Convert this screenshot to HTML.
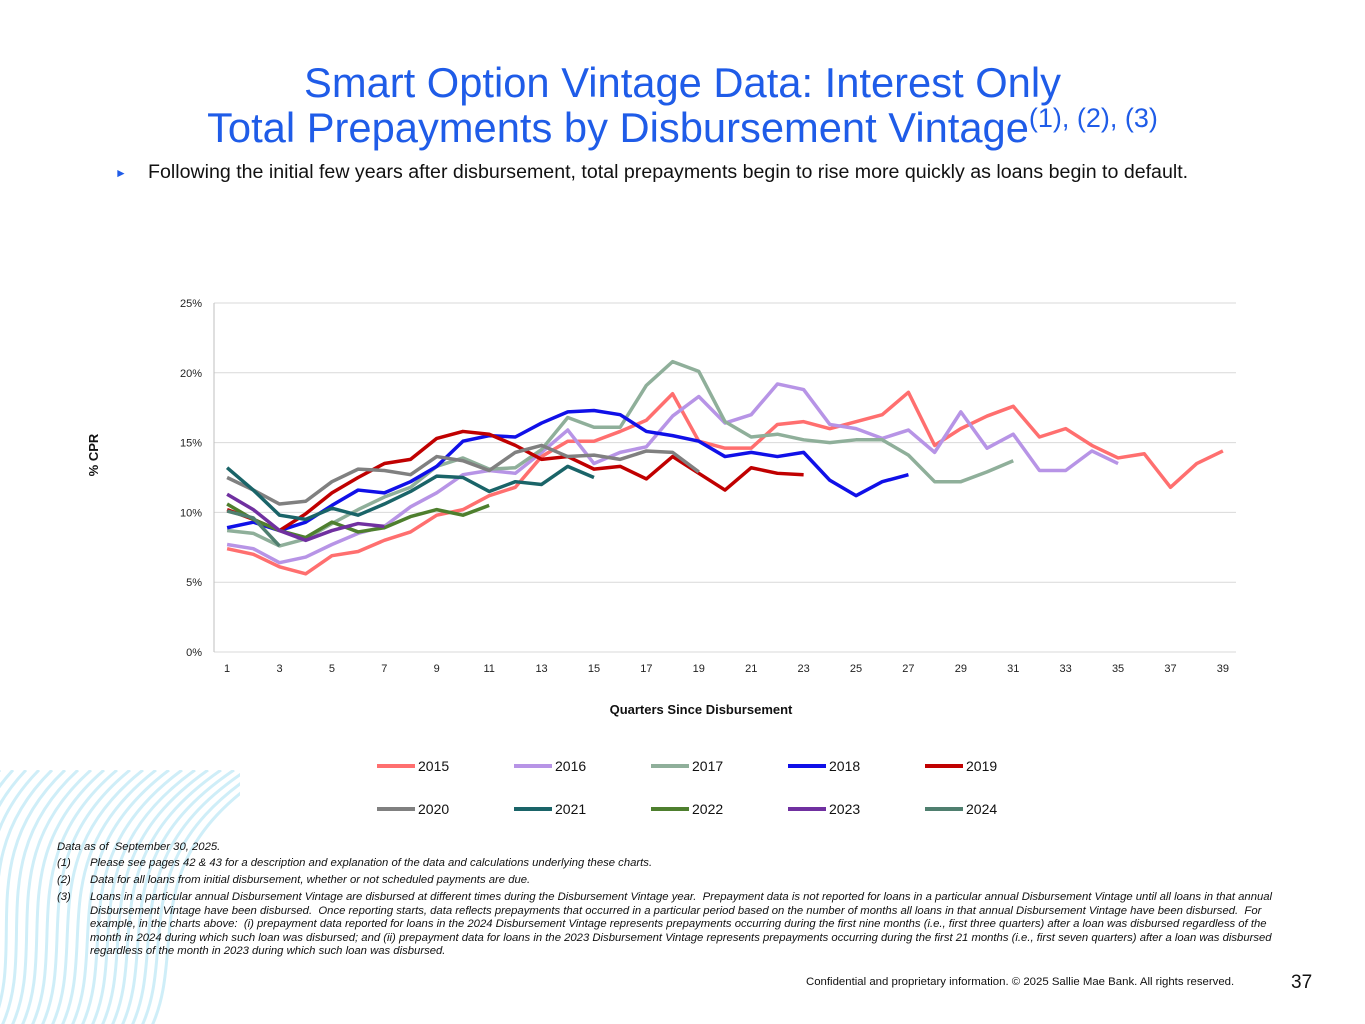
<!DOCTYPE html>
<html><head><meta charset="utf-8"><style>
body{margin:0;width:1365px;height:1024px;background:#fff;font-family:"Liberation Sans",sans-serif;position:relative;overflow:hidden}
.t{position:absolute;left:0;width:1365px;text-align:center;color:#1f5ce8;font-size:41.7px;line-height:44px}
.fn{position:absolute;font-size:11.3px;font-style:italic;color:#111;line-height:13.5px}
</style></head><body>
<svg style="position:absolute;left:0;top:770px" width="240" height="254">
<g fill="none" stroke="#cfeef8" stroke-width="3" id="sw"></g></svg>
<div class="t" style="top:61px">Smart Option Vintage Data: Interest Only</div>
<div class="t" style="top:106px">Total Prepayments by Disbursement Vintage<sup style="font-size:27px;line-height:0">(1), (2), (3)</sup></div>
<div style="position:absolute;left:115px;top:161px;font-size:19.6px;color:#111;white-space:nowrap"><span style="position:absolute;left:0;top:5px;color:#1f5ce8;font-size:12px">►</span><span style="position:absolute;left:33px;">Following the initial few years after disbursement, total prepayments begin to rise more quickly as loans begin to default.</span></div>
<svg id="chart" style="position:absolute;left:0;top:0" width="1365" height="840"></svg>
<div class="fn" style="left:57px;top:841px">Data as of &nbsp;September 30, 2025.</div>
<div class="fn" style="left:57px;top:857px">(1)<span style="position:absolute;left:33px;width:1200px">Please see pages 42 &amp; 43 for a description and explanation of the data and calculations underlying these charts.</span></div>
<div class="fn" style="left:57px;top:874px">(2)<span style="position:absolute;left:33px;width:1200px">Data for all loans from initial disbursement, whether or not scheduled payments are due.</span></div>
<div class="fn" style="left:57px;top:891px">(3)<span style="position:absolute;left:33px;width:1200px">Loans in a particular annual Disbursement Vintage are disbursed at different times during the Disbursement Vintage year.&nbsp; Prepayment data is not reported for loans in a particular annual Disbursement Vintage until all loans in that annual Disbursement Vintage have been disbursed.&nbsp; Once reporting starts, data reflects prepayments that occurred in a particular period based on the number of months all loans in that annual Disbursement Vintage have been disbursed.&nbsp; For example, in the charts above:&nbsp; (i) prepayment data reported for loans in the 2024 Disbursement Vintage represents prepayments occurring during the first nine months (i.e., first three quarters) after a loan was disbursed regardless of the month in 2024 during which such loan was disbursed; and (ii) prepayment data for loans in the 2023 Disbursement Vintage represents prepayments occurring during the first 21 months (i.e., first seven quarters) after a loan was disbursed regardless of the month in 2023 during which such loan was disbursed.</span></div>
<div style="position:absolute;left:806px;top:976px;font-size:11.4px;color:#111;white-space:nowrap">Confidential and proprietary information. © 2025 Sallie Mae Bank. All rights reserved.</div>
<div style="position:absolute;left:1291px;top:972px;font-size:19px;color:#111">37</div>
<script>
const vintages=["2015","2016","2017","2018","2019","2020","2021","2022","2023","2024"];
const colors=["#FF6F6F","#B794E6","#8FAF9A","#1010E8","#C00000","#808080","#1A6468","#4E7F2E","#7030A0","#4F7F6F"];
const s2015=[7.4,7.0,6.1,5.6,6.9,7.2,8.0,8.6,9.8,10.2,11.2,11.8,14.0,15.1,15.1,15.8,16.6,18.5,15.1,14.6,14.6,16.3,16.5,16.0,16.5,17.0,18.6,14.8,16.0,16.9,17.6,15.4,16.0,14.8,13.9,14.2,11.8,13.5,14.4];
const s2016=[7.7,7.4,6.4,6.8,7.7,8.5,9.0,10.4,11.4,12.7,13.0,12.8,14.3,15.9,13.5,14.3,14.7,16.9,18.3,16.4,17.0,19.2,18.8,16.3,16.0,15.3,15.9,14.3,17.2,14.6,15.6,13.0,13.0,14.4,13.5];
const s2017=[8.7,8.5,7.6,8.1,9.2,10.2,11.1,11.8,13.3,13.9,13.1,13.2,14.5,16.8,16.1,16.1,19.1,20.8,20.1,16.5,15.4,15.6,15.2,15.0,15.2,15.2,14.1,12.2,12.2,12.9,13.7];
const s2018=[8.9,9.3,8.7,9.3,10.5,11.6,11.4,12.2,13.3,15.1,15.5,15.4,16.4,17.2,17.3,17.0,15.8,15.5,15.1,14.0,14.3,14.0,14.3,12.3,11.2,12.2,12.7];
const s2019=[10.2,9.5,8.7,9.9,11.4,12.5,13.5,13.8,15.3,15.8,15.6,14.8,13.8,14.0,13.1,13.3,12.4,14.0,12.8,11.6,13.2,12.8,12.7];
const s2020=[12.5,11.6,10.6,10.8,12.2,13.1,13.0,12.7,14.0,13.7,13.0,14.3,14.8,14.0,14.1,13.8,14.4,14.3,12.9];
const s2021=[13.2,11.6,9.8,9.5,10.3,9.8,10.6,11.5,12.6,12.5,11.5,12.2,12.0,13.3,12.5];
const s2022=[10.6,9.5,8.7,8.2,9.3,8.6,8.9,9.7,10.2,9.8,10.5];
const s2023=[11.3,10.2,8.7,8.0,8.7,9.2,9.0];
const s2024=[10.1,9.6,7.6];
const series=[s2015,s2016,s2017,s2018,s2019,s2020,s2021,s2022,s2023,s2024];
const yTicks=[0,5,10,15,20,25];
const xTicks=[1,3,5,7,9,11,13,15,17,19,21,23,25,27,29,31,33,35,37,39];
const NS="http://www.w3.org/2000/svg";
const svg=document.getElementById('chart');
const X0=214,X1=1236,Y0=652,Y1=303,NQ=39;
const xs=q=>X0+(q-0.5)*(X1-X0)/NQ;
const ys=v=>Y0-(v/25)*(Y0-Y1);
function mk(t,a){const e=document.createElementNS(NS,t);for(const k in a)e.setAttribute(k,a[k]);svg.appendChild(e);return e;}
yTicks.forEach(v=>{
 const g=mk('line',{x1:X0,x2:X1,y1:ys(v),y2:ys(v),stroke:'#d9d9d9','stroke-width':1});
 
 
 const t=mk('text',{x:X0-12,y:ys(v)+4,'text-anchor':'end','font-size':11,fill:'#222'});t.textContent=v+'%';
 
 
});
const ax=mk('line',{x1:X0,x2:X0,y1:Y1,y2:Y0,stroke:'#bfbfbf'});


xTicks.forEach(q=>{
 const t=mk('text',{x:xs(q),y:672,'text-anchor':'middle','font-size':11,fill:'#222'});t.textContent=q;
 
 
});
const xt=mk('text',{x:701,y:714,'text-anchor':'middle','font-size':13,'font-weight':'bold',fill:'#111'});xt.textContent='Quarters Since Disbursement';


const yt=mk('text',{x:98,y:455,'text-anchor':'middle','font-size':13,'font-weight':'bold',fill:'#111',transform:'rotate(-90 98 455)'});yt.textContent='% CPR';


series.forEach((s,i)=>{
 const p=mk('polyline',{points:s.map((v,j)=>xs(j+1)+','+ys(v)).join(' '),fill:'none',stroke:colors[i],'stroke-width':3.5,'stroke-linejoin':'round'});
 
 
 const lx=377+(i%5)*137, ly=i<5?766:809;
 const l=mk('line',{x1:lx,x2:lx+38,y1:ly,y2:ly,stroke:colors[i],'stroke-width':4});
 
 
 const t=mk('text',{x:lx+41,y:ly+5,'font-size':14,fill:'#111'});t.textContent=vintages[i];
 
 
});
const sw=document.getElementById('sw');
for(let k=0;k<22;k++){const p=document.createElementNS(NS,'path');const x=-60+k*10;
p.setAttribute('d',`M${x} 260 C${x+40} 180 ${x-20} 90 ${x+60+k*3} 0`);sw.appendChild(p);}
</script>
</body></html>
